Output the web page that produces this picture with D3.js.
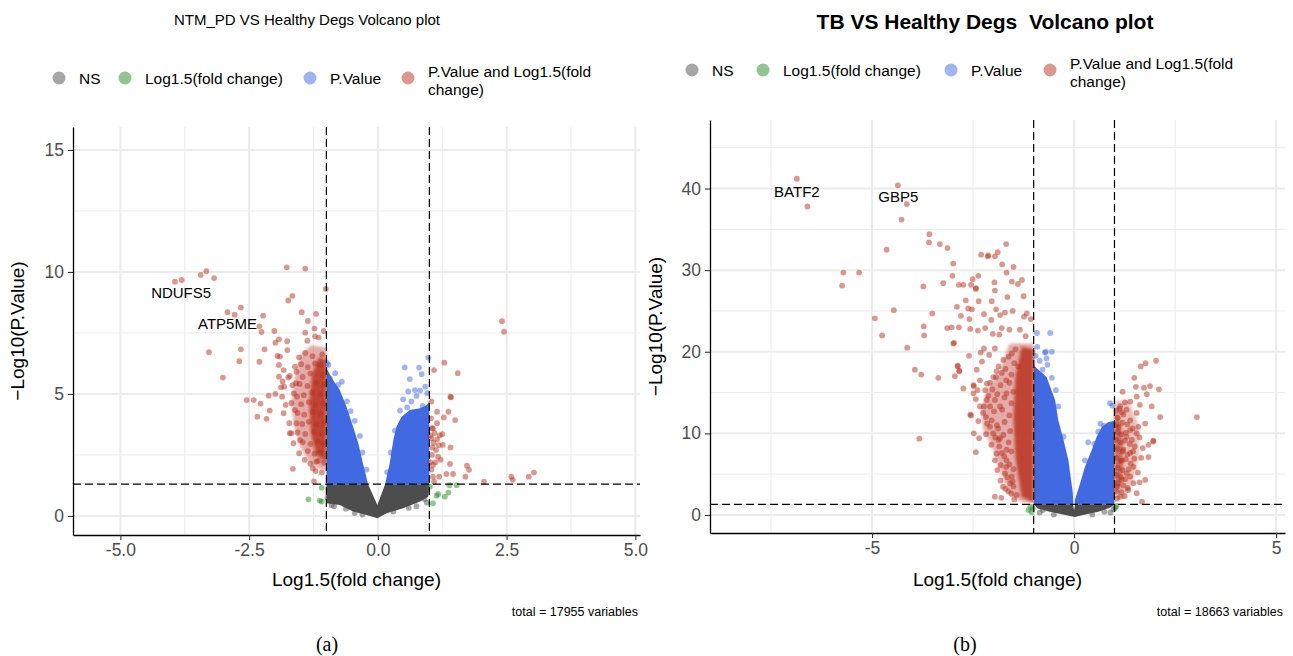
<!DOCTYPE html>
<html>
<head>
<meta charset="utf-8">
<script src="https://cdn.jsdelivr.net/npm/d3@7/dist/d3.min.js"></script>
<style>
  body { margin: 0; background: #fff; }
  svg { font-family: "Liberation Sans", Arial, sans-serif; }
</style>
</head>
<body>
<svg id="chart" width="1293" height="656"></svg>
<script>
// ---- legend / categories ----
const categories = ["NS", "Log1.5(fold change)", "P.Value", "P.Value and Log1.5(fold change)"];
const catColors = ["#4d4d4d", "#228b22", "#4169e1", "#b83220"];

// ---- panel (a): NTM_PD vs Healthy ----
const xTicksA = [-5, -2.5, 0, 2.5, 5];
const xMinorA = [-3.75, -1.25, 1.25, 3.75];
const yTicksA = [0, 5, 10, 15];
const yMinorA = [2.5, 7.5, 12.5];

// dense clouds, outlined in data units (log fold change, -log10 p)
const nsAreaA = [[-1.0,1.3],[-0.19,1.3],[-0.01,0.45],[0.14,1.3],[1.0,1.3],[0.98,0.79],[0.82,0.59],[0.49,0.32],[0.17,0.11],[-0.01,-0.09],[-0.22,0.04],[-0.48,0.18],[-0.74,0.45],[-1.0,0.52]];
const blueLeftA = [[-1.0,1.3],[-1.0,6.05],[-0.87,5.57],[-0.74,5.16],[-0.61,4.48],[-0.48,3.66],[-0.38,2.98],[-0.29,2.16],[-0.19,1.3]];
const blueRightA = [[0.14,1.3],[0.23,2.16],[0.30,3.11],[0.36,3.66],[0.46,4.07],[0.62,4.34],[0.82,4.41],[0.95,4.55],[1.0,4.69],[1.0,1.3]];
const redHaloA = [[-1.0,6.9],[-1.3,7.0],[-1.5,6.6],[-1.62,5.6],[-1.68,4.6],[-1.62,3.6],[-1.5,2.8],[-1.3,2.1],[-1.0,1.8]];
const redCoreA = [[-1.0,6.4],[-1.15,6.5],[-1.28,5.8],[-1.33,4.6],[-1.3,3.4],[-1.2,2.5],[-1.0,2.2]];

const nsPointsA = [[-0.9,0.45],[-0.62,0.3],[-0.45,0.12],[-0.3,0.06],[0.3,0.18],[0.6,0.33],[0.75,0.4],[0.95,0.55],[-0.98,0.75],[-0.85,0.4],[0.9,0.7]];
const greenPointsA = [[1.39,1.26],[1.53,1.26],[1.37,0.96],[1.14,0.83],[1.17,0.9],[1.07,0.52],[1.30,0.79],[1.01,1.2],[-1.09,0.59],[-1.09,1.16],[-1.35,0.68],[-1.13,0.63]];
const bluePointsA = [[-0.99,6.26],[-0.96,6.19],[-0.83,5.85],[-0.70,5.50],[-0.77,5.37],[-0.83,5.03],[-0.53,4.30],[-0.35,3.28],[-0.93,5.64],[-0.6,4.7],[-0.45,3.9],[-0.3,2.6],[-0.22,1.9],
  [0.98,6.49],[0.52,6.09],[0.80,6.08],[0.85,5.81],[0.62,5.61],[0.92,5.30],[0.59,5.10],[0.72,5.16],[0.82,5.14],[0.96,5.03],[0.49,4.78],[0.75,4.92],[0.65,4.69],[0.43,4.32],[0.57,4.45],[0.87,4.51],[0.33,3.5],[0.25,2.6],[0.18,1.8]];
const redPointsA = [[-3.94,9.60],[-3.81,9.67],[-3.44,9.88],[-3.33,10.03],[-3.18,9.75],
  [-1.77,10.19],[-1.41,10.14],[-1.01,9.30],[-1.66,9.02],[-1.74,8.83],[-2.92,8.35],[-2.66,8.54],[-2.78,8.25],[-2.23,8.21],[-2.30,7.77],[-2.26,7.54],
  [-1.48,8.35],[-1.20,8.28],[-1.36,7.99],[-1.23,7.68],[-1.05,7.58],[-2.01,7.58],[-1.41,7.51],[-1.22,7.36],[-1.15,7.31],[-1.92,7.24],[-1.76,7.16],[-1.37,7.18],[-1.99,7.10],
  [-2.20,6.83],[-2.66,6.83],[-3.28,6.71],[-2.69,6.34],[-2.30,6.32],[-3.01,5.67],[-1.92,5.71],[-1.90,6.53],[-1.76,6.80],[-1.92,6.19],[-1.83,5.98],[-1.71,5.74],[-1.85,5.51],
  [-2.12,4.93],[-1.99,5.00],[-2.55,4.75],[-2.41,4.75],[-2.28,4.60],[-2.10,4.32],[-2.34,4.07],[-2.16,3.98],[-1.86,4.89],[-1.79,4.55],[-1.83,4.21],[-1.71,3.39],[-1.64,2.98],
  [-1.53,2.57],[-1.65,1.93],[-1.24,1.42],[-1.26,1.95],[-1.19,2.23],[-1.42,2.30],[-1.58,3.80],[-1.51,3.11],[-1.61,4.34],[-1.57,4.89],[-1.59,5.44],[-1.58,5.91],[-1.61,6.12],
  [-1.53,6.50],[-1.88,5.27],[-1.82,5.30],[-1.74,5.67],[-1.95,6.56],[-1.72,3.80],[-1.68,3.39],
  [-1.08,6.62],[-1.27,6.55],[-1.41,6.68],[-1.12,6.18],[-1.22,6.25],[-1.36,6.1],[-1.49,6.22],[-1.07,5.77],[-1.31,5.84],[-1.46,5.7],[-1.04,5.38],[-1.19,5.45],[-1.37,5.33],
  [-1.52,5.41],[-1.66,5.36],[-1.12,4.98],[-1.27,5.06],[-1.44,4.95],[-1.63,5.02],[-1.06,4.62],[-1.21,4.55],[-1.34,4.66],[-1.49,4.58],[-1.68,4.63],[-1.11,4.18],[-1.26,4.25],
  [-1.43,4.15],[-1.56,4.22],[-1.04,3.82],[-1.19,3.75],[-1.34,3.86],[-1.47,3.77],[-1.09,3.38],[-1.24,3.45],[-1.41,3.36],[-1.56,3.42],[-1.06,2.98],[-1.17,3.05],[-1.31,2.95],
  [-1.46,3.02],[-1.12,2.62],[-1.23,2.55],[-1.36,2.66],[-1.05,2.18],[-1.16,2.26],[-1.31,2.14],[-1.09,1.78],[-1.21,1.84],
  [2.41,7.98],[2.45,7.55],[1.29,6.28],[1.09,5.98],[1.55,5.85],[1.41,4.89],[1.04,4.69],[1.15,4.27],[1.37,4.27],[1.28,4.04],[1.50,3.93],[1.07,3.59],[1.04,3.18],[1.15,3.14],
  [1.26,2.91],[1.41,2.81],[1.06,2.81],[1.17,2.43],[1.22,2.30],[1.40,2.13],[1.07,2.09],[1.73,2.06],[1.70,1.61],[1.33,1.72],[1.46,1.72],[1.19,1.61],[1.07,1.61],[1.77,1.89],
  [2.06,1.41],[1.09,1.41],[2.59,1.61],[2.62,1.48],[2.93,1.61],[3.03,1.78],[1.42,4.86],[1.03,4.0],[1.05,3.6],[1.10,3.4],[1.08,3.0],[1.13,2.7],[1.05,2.5],[1.02,2.2],
  [1.12,2.2],[1.04,1.9],[1.15,3.8],[1.20,3.3],[1.02,3.3],[1.25,3.35],[1.18,2.9]];
const geneLabelsA = [{ gene: "NDUFS5", x: -3.82, y: 8.95 }, { gene: "ATP5ME", x: -2.92, y: 7.65 }];

// ---- panel (b): TB vs Healthy ----
const xTicksB = [-5, 0, 5];
const xMinorB = [-7.5, -2.5, 2.5];
const yTicksB = [0, 10, 20, 30, 40];
const yMinorB = [5, 15, 25, 35, 45];

const nsAreaB = [[-1.0,1.3],[-0.03,1.3],[0.0,0.6],[0.03,1.3],[1.0,1.3],[0.9,0.9],[0.6,0.4],[0.3,0.1],[0.02,-0.25],[-0.3,0.1],[-0.6,0.4],[-0.9,0.8]];
const blueLeftB = [[-1.0,1.3],[-1.0,18.5],[-0.97,18.2],[-0.68,16.9],[-0.47,14.1],[-0.39,11.6],[-0.26,9.2],[-0.14,6.7],[-0.03,2.66],[-0.02,1.3]];
const blueRightB = [[0.02,1.3],[0.02,1.84],[0.15,3.88],[0.27,5.9],[0.44,8.0],[0.56,9.6],[0.69,10.8],[0.85,11.4],[1.0,11.5],[1.0,1.3]];
const redHaloLeftB = [[-1.0,21.0],[-1.6,21.0],[-1.85,17.5],[-2.15,15.5],[-2.3,13.0],[-2.25,10.5],[-2.0,8.0],[-1.8,5.0],[-1.6,2.5],[-1.3,1.6],[-1.0,1.5]];
const redCoreLeftB = [[-1.0,20.3],[-1.3,20.6],[-1.45,17.0],[-1.5,12.0],[-1.45,7.0],[-1.3,2.2],[-1.0,1.5]];
const redHaloRightB = [[1.0,14.0],[1.35,14.0],[1.6,11.0],[1.6,7.0],[1.45,4.0],[1.25,2.2],[1.0,2.0]];
const redCoreRightB = [[1.0,12.5],[1.12,12.3],[1.2,9.5],[1.22,6.0],[1.15,3.5],[1.0,2.5]];

const nsPointsB = [[-0.77,0.6],[-0.85,0.3],[0.75,0.4],[0.9,0.3],[-0.5,0.05],[0.45,0.05],[0.98,0.7]];
const greenPointsB = [[-1.13,0.6],[-1.05,0.35],[-1.08,1.0],[-1.02,0.8],[1.02,0.9],[1.05,1.1]];
const bluePointsB = [[-0.92,22.3],[-0.59,22.3],[-0.91,20.6],[-0.70,20.0],[-0.55,20.0],[-0.66,18.4],[-0.78,17.8],[-0.55,16.8],[-0.45,15.3],[-0.39,13.3],[-0.26,9.6],
  [-0.72,19.9],[-0.68,19.2],[-0.95,19.5],[-0.85,18.9],[0.89,13.7],[0.95,13.4],[0.74,10.9],[0.35,8.9],[0.27,6.7],[0.60,10.2],[0.5,8.7],[0.65,11.2]];
const redPointsB = [[-6.86,41.2],[-6.60,37.8],[-4.36,40.4],[-4.14,38.1],[-4.27,36.2],[-3.58,34.4],[-3.59,33.4],[-3.32,33.2],[-3.13,32.7],[-4.64,32.5],[-2.30,31.9],[-2.14,31.7],
  [-5.71,29.7],[-5.32,29.7],[-5.74,28.1],[-2.99,30.8],[-3.01,29.3],[-2.37,29.3],[-2.51,28.9],[-3.24,28.4],[-3.73,28.0],[-2.85,28.2],[-2.74,28.2],[-2.55,28.2],[-2.43,27.8],
  [-2.68,26.3],[-2.36,26.2],[-2.90,25.5],[-2.53,25.2],[-2.62,25.3],[-4.46,25.1],[-4.93,24.1],[-3.51,24.7],[-2.80,24.4],[-2.59,24.0],[-3.14,22.9],[-3.03,23.0],[-2.85,23.0],
  [-2.57,22.8],[-2.38,22.6],[-2.20,22.9],[-4.75,22.0],[-3.72,23.1],[-3.71,22.0],[-2.97,21.1],[-4.13,20.5],[-2.23,20.4],[-2.31,19.9],[-2.60,19.5],[-2.88,18.3],[-3.94,17.8],
  [-3.78,17.2],[-3.36,16.8],[-2.95,17.0],[-2.84,17.7],[-2.74,15.5],[-2.41,17.8],[-2.48,15.8],
  [-1.68,33.2],[-2.12,31.8],[-1.96,31.7],[-1.89,32.2],[-1.78,30.7],[-1.50,30.4],[-1.67,29.7],[-2.43,27.7],[-1.97,28.5],[-1.54,28.6],[-1.39,28.3],[-1.29,28.8],[-1.96,27.5],
  [-1.25,26.8],[-1.65,26.7],[-2.04,26.2],[-2.23,24.6],[-2.05,23.9],[-1.93,25.2],[-1.83,24.5],[-1.71,24.8],[-1.52,25.0],[-1.24,24.3],[-1.17,24.7],[-2.01,22.2],[-1.85,22.1],
  [-1.79,22.9],[-1.60,22.7],[-1.34,22.7],[-1.20,21.9],[-1.07,24.0],[-2.10,19.6],[-1.96,20.4],[-2.28,18.8],[-2.99,21.0],[-2.49,15.9],[-2.39,15.3],[-2.43,14.2],[-2.33,13.3],
  [-2.55,12.2],[-2.37,11.5],[-2.48,10.0],[-2.35,9.4],[-2.43,7.7],[-3.83,9.35],[-1.90,5.5],[-1.96,2.24],[-1.76,3.47],[-1.68,5.9],[-2.25,12.5],[-2.08,10.8],[-2.16,14.1],
  [-2.20,15.3],[-2.00,16.9],[-1.83,9.4],[-1.67,8.0],[-1.54,4.7],[-1.42,2.45],[-1.96,6.7],[-2.57,12.3],[-2.88,18.2],[-2.84,17.6],
  [-2.33,16.5],[-2.16,16.1],[-2.08,16.2],[-2.49,14.9],[-1.93,16.9],[-1.79,17.4],[-1.67,14.9],[-1.96,14.1],[-1.83,13.3],[-2.04,11.6],[-1.91,11.0],[-2.00,10.0],[-1.87,9.2],
  [-1.79,7.6],[-1.67,6.7],[-1.71,5.1],[-1.58,3.9],[-1.63,2.9],[-1.50,3.5],[-1.75,19.0],[-1.54,19.8],[-1.38,18.2],[-1.87,18.2],[-1.68,16.5],[-2.08,13.3],[-2.23,13.3],
  [-1.45,20.3],[-1.62,19.4],[-1.48,18.6],[-1.70,17.9],[-1.55,17.2],[-1.92,17.6],[-1.60,16.2],[-1.82,15.9],[-2.02,15.4],[-1.50,15.1],[-1.72,14.4],[-1.90,14.8],[-2.12,14.6],
  [-1.55,13.7],[-1.78,12.9],[-1.98,12.7],[-2.18,12.0],[-1.60,12.2],[-1.72,11.4],[-1.88,10.6],[-2.15,11.2],[-1.58,10.3],[-1.75,9.8],[-1.95,9.5],[-2.18,9.9],[-1.62,8.9],
  [-1.85,8.4],[-2.05,8.6],[-1.55,7.8],[-1.73,7.2],[-1.92,7.5],[-1.60,6.2],[-1.82,6.1],[-1.50,5.6],[-1.65,4.6],[-1.82,4.2],[-1.52,4.1],[-1.70,3.2],[-1.55,2.6],[-1.80,2.1],
  [-1.48,1.9],
  [2.03,18.9],[1.77,18.6],[1.65,18.2],[1.49,16.8],[1.53,15.7],[1.88,15.8],[1.73,15.6],[2.10,15.4],[1.20,15.1],[1.55,14.5],[1.80,14.8],[1.26,13.8],[1.39,13.9],[1.92,13.3],
  [2.13,12.0],[3.04,12.0],[1.14,13.3],[1.63,13.5],[1.76,11.2],[1.96,9.1],[1.84,8.6],[1.70,8.2],[1.39,7.6],[1.84,7.1],[1.76,4.3],[1.55,2.66],[1.68,1.63],[1.34,3.06],
  [1.14,2.24],[1.30,5.1],[1.47,5.9],[1.49,6.9],[1.22,8.0],[1.10,10.8],[1.39,10.4],[1.55,10.0],[1.30,9.6],[1.39,11.6],[1.55,12.5],[1.22,12.3],[1.59,10.8],[1.43,9.2],
  [1.18,6.7],[1.39,4.7],[1.18,4.3],[1.07,3.5],[1.47,3.9],[1.96,9.0],
  [1.05,12.8],[1.12,13.0],[1.08,11.9],[1.18,12.6],[1.30,12.9],[1.05,11.0],[1.20,11.3],[1.32,11.1],[1.08,10.2],[1.17,9.9],[1.28,10.1],[1.45,10.6],[1.04,9.2],[1.15,8.9],
  [1.26,9.1],[1.38,8.7],[1.50,8.4],[1.07,8.1],[1.20,7.8],[1.32,7.4],[1.46,7.8],[1.05,7.0],[1.15,6.6],[1.28,6.8],[1.40,6.3],[1.08,5.8],[1.20,5.5],[1.35,5.6],[1.05,4.9],
  [1.16,4.6],[1.27,4.4],[1.08,3.9],[1.22,3.6],[1.33,3.3],[1.05,2.9],[1.17,2.8],[1.25,2.3],[1.06,2.0],[1.62,9.5],[1.66,7.0],[1.58,5.2],[1.62,4.0]];
const geneLabelsB = [{ gene: "BATF2", x: -6.86, y: 39.0 }, { gene: "GBP5", x: -4.35, y: 38.3 }];

const fcCut = 1;
const pCut = -Math.log10(0.05);

// ---- layout ----
const panels = [
  {
    title: "NTM_PD VS Healthy Degs Volcano plot", titleX: 307, titleY: 25, titleSize: 15, titleWeight: "normal",
    left: 73, right: 640, top: 127, bottom: 535,
    xDomain: [-5.92, 5.09], yDomain: [-0.78, 15.94],
    xTicks: xTicksA, xMinor: xMinorA, yTicks: yTicksA, yMinor: yMinorA, xFmt: d => d.toFixed(1),
    legendX: [59, 125, 310, 408], legendY: 78,
    yTitleX: 24, caption: "total = 17955 variables", tag: "(a)", tagX: 327,
    areas: [[nsAreaA, 0, 1, false], [blueLeftA, 2, 1, false], [blueRightA, 2, 1, false], [redHaloA, 3, 0.4, true], [redCoreA, 3, 0.85, true]],
    points: [[nsPointsA, 0], [greenPointsA, 1], [bluePointsA, 2], [redPointsA, 3]],
    labels: geneLabelsA
  },
  {
    title: "TB VS Healthy Degs  Volcano plot", titleX: 985, titleY: 29, titleSize: 21, titleWeight: "bold",
    left: 710, right: 1285, top: 120, bottom: 533,
    xDomain: [-9.01, 5.22], yDomain: [-2.21, 48.4],
    xTicks: xTicksB, xMinor: xMinorB, yTicks: yTicksB, yMinor: yMinorB, xFmt: d => String(d),
    legendX: [692, 763, 951, 1050], legendY: 70,
    yTitleX: 662, caption: "total = 18663 variables", tag: "(b)", tagX: 965,
    areas: [[nsAreaB, 0, 1, false], [blueLeftB, 2, 1, false], [blueRightB, 2, 1, false],
      [redHaloLeftB, 3, 0.4, true], [redCoreLeftB, 3, 0.85, true], [redHaloRightB, 3, 0.3, true], [redCoreRightB, 3, 0.6, true]],
    points: [[nsPointsB, 0], [greenPointsB, 1], [bluePointsB, 2], [redPointsB, 3]],
    labels: geneLabelsB
  }
];

const svg = d3.select("#chart");
svg.append("defs").append("filter").attr("id", "soft")
  .append("feGaussianBlur").attr("stdDeviation", 1.4);

function drawPanel(p) {
  const g = svg.append("g");
  const x = d3.scaleLinear().domain(p.xDomain).range([p.left, p.right]);
  const y = d3.scaleLinear().domain(p.yDomain).range([p.bottom, p.top]);

  // grid: minor then major
  const grid = g.append("g").attr("fill", "none").attr("stroke", "#ebebeb");
  grid.selectAll(".vmin").data(p.xMinor).join("line")
    .attr("x1", x).attr("x2", x).attr("y1", p.top).attr("y2", p.bottom).attr("stroke-width", 1);
  grid.selectAll(".hmin").data(p.yMinor).join("line")
    .attr("y1", y).attr("y2", y).attr("x1", p.left).attr("x2", p.right).attr("stroke-width", 1);
  grid.selectAll(".vmaj").data(p.xTicks).join("line")
    .attr("x1", x).attr("x2", x).attr("y1", p.top).attr("y2", p.bottom).attr("stroke-width", 2);
  grid.selectAll(".hmaj").data(p.yTicks).join("line")
    .attr("y1", y).attr("y2", y).attr("x1", p.left).attr("x2", p.right).attr("stroke-width", 2);

  // dense clouds
  const area = d3.line().x(d => x(d[0])).y(d => y(d[1])).curve(d3.curveLinearClosed);
  g.append("g").selectAll("path").data(p.areas).join("path")
    .attr("d", d => area(d[0]))
    .attr("fill", d => catColors[d[1]])
    .attr("fill-opacity", d => d[2])
    .attr("filter", d => d[3] ? "url(#soft)" : null);

  // individual points
  p.points.forEach(([pts, ci]) => {
    g.append("g").selectAll("circle").data(pts).join("circle")
      .attr("cx", d => x(d[0])).attr("cy", d => y(d[1])).attr("r", 2.9)
      .attr("fill", catColors[ci]).attr("fill-opacity", 0.5);
  });

  // cut-off lines
  const cut = g.append("g").attr("stroke", "#000").attr("stroke-width", 1.2).attr("stroke-dasharray", "8,4");
  cut.selectAll(".v").data([-fcCut, fcCut]).join("line")
    .attr("x1", x).attr("x2", x).attr("y1", p.top).attr("y2", p.bottom);
  cut.append("line").attr("x1", p.left).attr("x2", p.right).attr("y1", y(pCut)).attr("y2", y(pCut));

  // gene labels
  g.append("g").selectAll("text").data(p.labels).join("text")
    .attr("x", d => x(d.x)).attr("y", d => y(d.y))
    .attr("text-anchor", "middle").attr("font-size", 15).attr("fill", "#000")
    .text(d => d.gene);

  // axes
  const xAxis = g.append("g").attr("transform", `translate(0,${p.bottom})`)
    .call(d3.axisBottom(x).tickValues(p.xTicks).tickFormat(p.xFmt).tickSize(5).tickPadding(4).tickSizeOuter(0));
  const yAxis = g.append("g").attr("transform", `translate(${p.left},0)`)
    .call(d3.axisLeft(y).tickValues(p.yTicks).tickSize(5).tickPadding(4).tickSizeOuter(0));
  [xAxis, yAxis].forEach(a => {
    a.select(".domain").attr("stroke", "#000").attr("stroke-width", 1.3);
    a.selectAll(".tick line").attr("stroke", "#333").attr("stroke-width", 1.1);
    a.selectAll(".tick text").attr("fill", "#4d4d4d").attr("font-size", 17.5)
      .attr("font-family", "Liberation Sans, Arial, sans-serif");
  });

  // axis titles
  g.append("text").attr("x", (p.left + p.right) / 2).attr("y", 586)
    .attr("text-anchor", "middle").attr("font-size", 19).text("Log1.5(fold change)");
  g.append("text").attr("transform", `translate(${p.yTitleX},${(p.top + p.bottom) / 2}) rotate(-90)`)
    .attr("text-anchor", "middle").attr("font-size", 19).text("\u2212Log10(P.Value)");

  // title
  g.append("text").attr("x", p.titleX).attr("y", p.titleY).attr("text-anchor", "middle")
    .attr("font-size", p.titleSize).attr("font-weight", p.titleWeight)
    .style("white-space", "pre").text(p.title);

  // legend
  const leg = g.append("g");
  categories.forEach((c, i) => {
    leg.append("circle").attr("cx", p.legendX[i]).attr("cy", p.legendY).attr("r", 6.5)
      .attr("fill", catColors[i]).attr("fill-opacity", 0.5);
    const t = leg.append("text").attr("x", p.legendX[i] + 20).attr("font-size", 15.5);
    if (i === 3) {
      t.append("tspan").attr("x", p.legendX[i] + 20).attr("y", p.legendY - 1).text("P.Value and Log1.5(fold");
      t.append("tspan").attr("x", p.legendX[i] + 20).attr("y", p.legendY + 17).text("change)");
    } else {
      t.attr("y", p.legendY + 5.5).text(c);
    }
  });

  // caption + panel tag
  g.append("text").attr("x", p.right - 2).attr("y", 616).attr("text-anchor", "end")
    .attr("font-size", 12.5).text(p.caption);
  g.append("text").attr("x", p.tagX).attr("y", 651).attr("text-anchor", "middle")
    .attr("font-size", 20).attr("font-family", "Liberation Serif, serif").text(p.tag);
}

panels.forEach(drawPanel);
</script>
</body>
</html>
